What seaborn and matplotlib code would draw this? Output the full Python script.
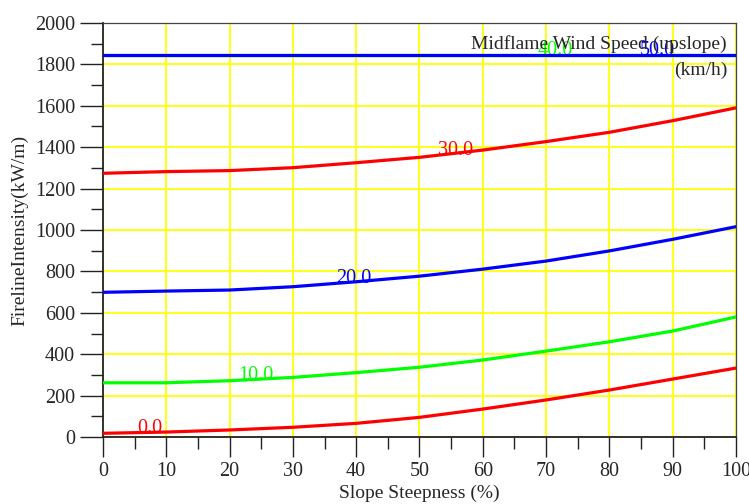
import numpy as np
import pandas as pd
import matplotlib
matplotlib.use("Agg")
import matplotlib.pyplot as plt
from matplotlib.ticker import MultipleLocator
import seaborn as sns

# Slope steepness (%) and fireline intensity (kW/m) for each midflame wind speed
slope = [0, 10, 20, 30, 40, 50, 60, 70, 80, 90, 100]
wind_speeds = ["0.0", "10.0", "20.0", "30.0", "40.0", "50.0"]
intensity_0 = [18, 24, 34, 47, 66, 95, 135, 179, 227, 280, 333]
intensity_10 = [262, 262, 272, 288, 311, 337, 372, 415, 460, 512, 580]
intensity_20 = [699, 705, 710, 726, 750, 777, 811, 850, 899, 955, 1016]
intensity_30 = [1274, 1282, 1287, 1301, 1325, 1351, 1386, 1427, 1472, 1528, 1590]
intensity_40 = [1845] * 11
intensity_50 = [1845] * 11
label_slopes = [5.4, 21.3, 36.8, 52.9, 68.6, 84.8]

series = [intensity_0, intensity_10, intensity_20, intensity_30, intensity_40, intensity_50]
colors = ["#FF0000", "#00FF00", "#0000FF", "#FF0000", "#00FF00", "#0000FF"]

df = pd.concat(
    [pd.DataFrame({"slope": slope, "intensity": vals, "wind": w})
     for w, vals in zip(wind_speeds, series)],
    ignore_index=True,
)

sns.set_style("white")
plt.rcParams["font.family"] = ["Liberation Serif", "DejaVu Serif"]

fig = plt.figure(figsize=(7.49, 5.04), dpi=100)
ax = fig.add_axes([0.1375, 0.1329, 0.8451, 0.8215])

sns.lineplot(data=df, x="slope", y="intensity", hue="wind",
             palette=dict(zip(wind_speeds, colors)), linewidth=2.3,
             legend=False, ax=ax, zorder=3)

ax.set_xlim(0, 100)
ax.set_ylim(0, 2000)
ax.xaxis.set_major_locator(MultipleLocator(10))
ax.xaxis.set_minor_locator(MultipleLocator(5))
ax.yaxis.set_major_locator(MultipleLocator(200))
ax.yaxis.set_minor_locator(MultipleLocator(100))
ax.grid(True, which="major", color="#FFFF00", linewidth=1.3, zorder=0)
ax.set_axisbelow(True)

ax.tick_params(axis="x", which="major", direction="out", length=14.4, width=1,
               color="#222222", labelsize=14.5, pad=3.5, bottom=True)
ax.tick_params(axis="x", which="minor", direction="out", length=8.6, width=1,
               color="#222222", bottom=True)
ax.tick_params(axis="y", which="major", direction="out", length=16.5, width=1,
               color="#222222", labelsize=14.5, pad=3.5, left=True)
ax.tick_params(axis="y", which="minor", direction="out", length=8.6, width=1,
               color="#222222", left=True)

for side in ["left", "bottom"]:
    ax.spines[side].set_color("#222222")
    ax.spines[side].set_linewidth(1.3)
for side in ["top", "right"]:
    ax.spines[side].set_color("#444444")
    ax.spines[side].set_linewidth(0.9)

ax.set_xlabel("Slope Steepness (%)", fontsize=14, labelpad=3)
ax.set_ylabel("FirelineIntensity(kW/m)", fontsize=14, labelpad=5)

# Wind speed labels sitting on their curves
for w, vals, c, xs in zip(wind_speeds, series, colors, label_slopes):
    yv = np.interp(xs, slope, vals)
    ax.text(xs, yv, w, color=c, fontsize=14.5, ha="left", va="baseline",
            zorder=2.5)

ax.text(0.986, 0.950, "Midflame Wind Speed (upslope)", transform=ax.transAxes,
        ha="right", va="center", fontsize=14, zorder=5)
ax.text(0.986, 0.886, "(km/h)", transform=ax.transAxes,
        ha="right", va="center", fontsize=14, zorder=5)

fig.savefig("out.png", dpi=100)
